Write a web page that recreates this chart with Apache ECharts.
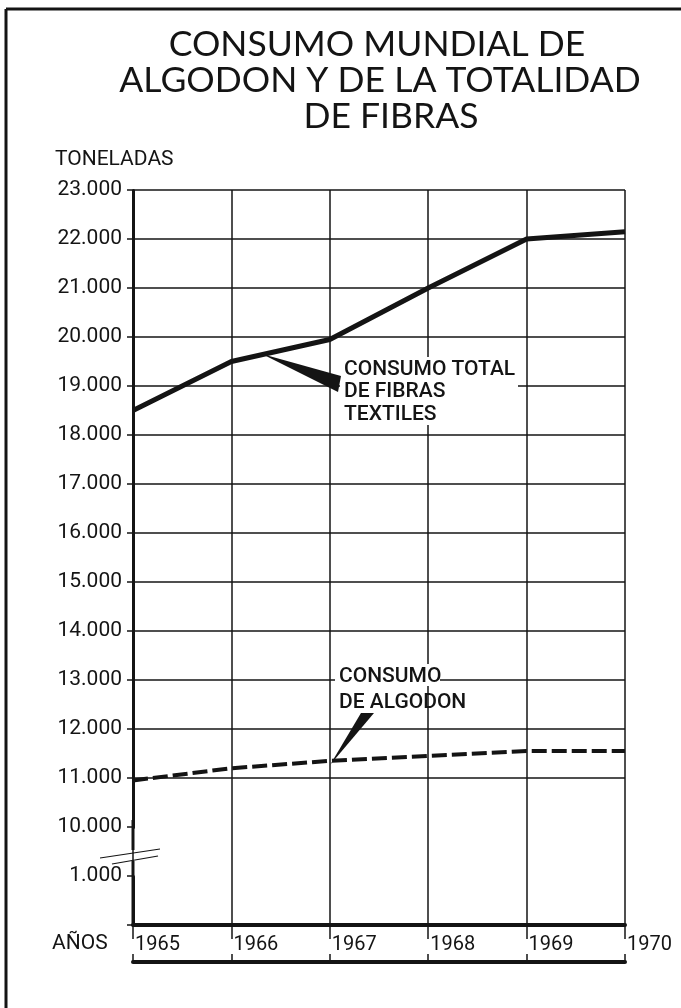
<!DOCTYPE html>
<html>
<head>
<meta charset="utf-8">
<script src="https://cdn.jsdelivr.net/npm/echarts@6/dist/echarts.min.js"></script>
<style>
html, body { margin: 0; padding: 0; background: #fff; }
#main { width: 681px; height: 1008px; }
</style>
</head>
<body>
<div id="main"></div>
<script>
// datos (toneladas)
var years = ['1965', '1966', '1967', '1968', '1969', '1970'];
var totalFibras = [18500, 19500, 19950, 21000, 22000, 22150];
var algodon = [10950, 11200, 11350, 11450, 11550, 11550];

var titleLines = ['CONSUMO MUNDIAL DE', 'ALGODON Y DE LA TOTALIDAD', 'DE FIBRAS'];
var labelTotal = ['CONSUMO TOTAL', 'DE FIBRAS', 'TEXTILES'];
var labelAlgodon = ['CONSUMO', 'DE ALGODON'];

var ink = '#141414';
var sans = 'Roboto, "DejaVu Sans", sans-serif';
var thin = 'Lato, "DejaVu Sans", sans-serif';

var chart = echarts.init(document.getElementById('main'));

function fmt(v) {
    if (v === 0) return '';
    return (v / 1000) + '.000';
}

var option = {
    backgroundColor: '#fff',
    animation: false,
    grid: { left: 133, right: 56, top: 190, bottom: 83 },
    xAxis: [
        {
            type: 'category',
            data: years,
            boundaryGap: false,
            axisLine: { lineStyle: { color: ink, width: 4 } },
            axisTick: { show: true, length: 14, lineStyle: { color: ink, width: 1.5 } },
            axisLabel: {
                color: ink, fontFamily: sans, fontSize: 20, margin: 10,
                align: 'left', padding: [0, 0, 0, 2]
            },
            splitLine: { show: true, lineStyle: { color: ink, width: 1.5 } }
        },
        {
            type: 'category',
            data: years,
            boundaryGap: false,
            position: 'bottom',
            offset: 37,
            axisLine: { lineStyle: { color: ink, width: 4 } },
            axisTick: { show: true, inside: true, length: 8, lineStyle: { color: ink, width: 1.5 } },
            axisLabel: { show: false },
            splitLine: { show: false }
        }
    ],
    yAxis: {
        type: 'value',
        min: 0,
        max: 23000,
        interval: 1000,
        breaks: [{ start: 1000, end: 10000, gap: 1000 }],
        breakArea: { show: false },
        axisLine: { show: true, lineStyle: { color: ink, width: 3 } },
        axisTick: { show: true, length: 6, lineStyle: { color: ink, width: 1.5 } },
        axisLabel: { color: ink, fontFamily: sans, fontSize: 21, margin: 11, formatter: fmt },
        splitLine: { show: true, lineStyle: { color: ink, width: 1.5 } }
    },
    series: [
        {
            name: 'Consumo total de fibras textiles',
            type: 'line',
            data: totalFibras,
            symbol: 'none',
            lineStyle: { color: ink, width: 5 }
        },
        {
            name: 'Consumo de algodon',
            type: 'line',
            data: algodon,
            symbol: 'none',
            lineStyle: { color: ink, width: 4, type: [15, 5] }
        }
    ],
    graphic: [
        // marco
        { type: 'line', z: 100, shape: { x1: 6, y1: 9, x2: 681, y2: 9 }, style: { stroke: ink, lineWidth: 3 } },
        { type: 'line', z: 100, shape: { x1: 6, y1: 9, x2: 6, y2: 1008 }, style: { stroke: ink, lineWidth: 3 } },
        // eje con corte
        { type: 'line', z: 100, shape: { x1: 133, y1: 820, x2: 133, y2: 850 }, style: { stroke: ink, lineWidth: 3 } },
        { type: 'line', z: 100, shape: { x1: 133, y1: 861, x2: 133, y2: 926 }, style: { stroke: ink, lineWidth: 3 } },
        { type: 'line', z: 101, shape: { x1: 100, y1: 858, x2: 160, y2: 849 }, style: { stroke: ink, lineWidth: 1.2 } },
        { type: 'line', z: 101, shape: { x1: 112, y1: 864, x2: 158, y2: 856 }, style: { stroke: ink, lineWidth: 1.2 } },
        // titulo
        { type: 'text', x: 377, y: 27, style: { text: titleLines[0], align: 'center', fill: ink, font: '35.5px ' + thin } },
        { type: 'text', x: 380, y: 63, style: { text: titleLines[1], align: 'center', fill: ink, font: '35.5px ' + thin } },
        { type: 'text', x: 391, y: 99, style: { text: titleLines[2], align: 'center', fill: ink, font: '35.5px ' + thin } },
        { type: 'text', x: 55, y: 149, style: { text: 'TONELADAS', fill: ink, font: '21px ' + sans } },
        { type: 'text', x: 52, y: 933, style: { text: 'AÑOS', fill: ink, font: '21px ' + sans } },
        // fondos blancos de las leyendas
        { type: 'rect', z: 99, shape: { x: 340, y: 357, width: 178, height: 46 }, style: { fill: '#fff' } },
        { type: 'rect', z: 99, shape: { x: 340, y: 403, width: 100, height: 22 }, style: { fill: '#fff' } },
        { type: 'rect', z: 99, shape: { x: 335, y: 664, width: 105, height: 22 }, style: { fill: '#fff' } },
        // flechas de las leyendas
        { type: 'polygon', z: 100, shape: { points: [[262, 354], [341, 376], [338, 392]] }, style: { fill: ink } },
        { type: 'polygon', z: 100, shape: { points: [[330, 765], [361, 713], [374, 713]] }, style: { fill: ink } },
        { type: 'text', z: 100, x: 344, y: 358, style: { text: labelTotal.join('\n'), lineHeight: 22.5, fill: ink, font: '500 21px ' + sans } },
        { type: 'text', z: 100, x: 339, y: 664, style: { text: labelAlgodon.join('\n'), lineHeight: 26, fill: ink, font: '500 21px ' + sans } }
    ]
};

chart.setOption(option);
window.onresize = function () { chart.resize(); };
</script>
</body>
</html>
